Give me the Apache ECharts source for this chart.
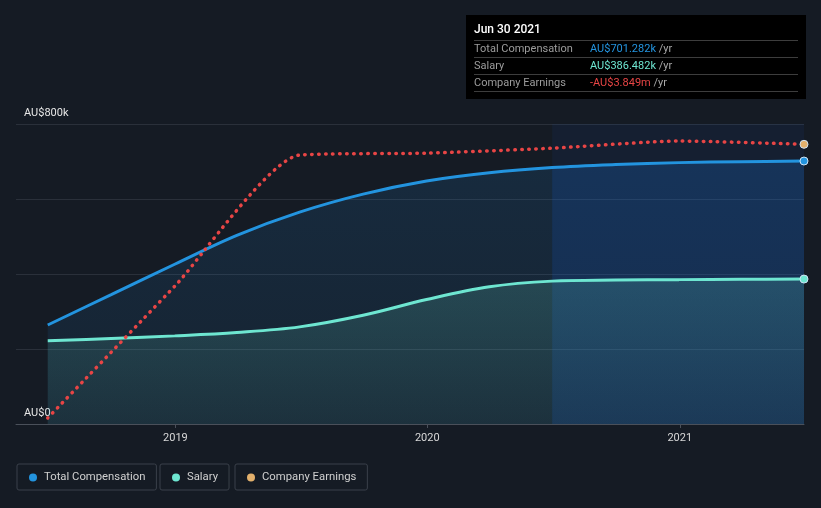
<!DOCTYPE html>
<html>
<head>
<meta charset="utf-8">
<script src="https://cdn.jsdelivr.net/npm/echarts@6/dist/echarts.min.js"></script>
<style>
html,body{margin:0;padding:0;background:#151b24;}
#c{width:821px;height:508px;}
</style>
</head>
<body>
<div id="c"></div>
<script>
// ---- data ----
var compDates = ['2018-06-30','2018-09-30','2018-12-31','2019-03-31','2019-06-30','2019-09-30','2019-12-31','2020-03-31','2020-06-30','2020-09-30','2020-12-31','2021-03-31','2021-06-30'];
var totalComp = [264, 345, 426, 503, 565, 613, 648, 670, 684, 692, 697, 699.5, 701.282]; // AU$k
var salary    = [222, 228, 235, 244, 259, 290, 332, 366, 381, 384, 385, 386, 386.482]; // AU$k
var earnDates = ['2018-06-30','2018-12-31','2019-06-30','2019-12-31','2020-06-30','2020-12-31','2021-06-30'];
var earnings  = [-13.78, -9.0, -4.24, -4.17, -3.99, -3.73, -3.849]; // AU$m
var yTicks = {0: 'AU$0', 800: 'AU$800k'};
var xYears = ['2019-01-01','2020-01-01','2021-01-01'];
var seriesNames = ['Total Compensation','Salary','Company Earnings'];
var tooltipDate = 'Jun 30 2021';
var highlightFrom = '2020-06-30';

function ts(s){ return new Date(s + 'T00:00:00').getTime(); }
function pairs(d, v, endColor){
  return v.map(function(y, i){
    var item = {value: [ts(d[i]), y]};
    if (i === v.length - 1) {
      item.symbol = 'circle'; item.symbolSize = 8;
      item.itemStyle = {color: endColor, borderColor: '#cfe3f5', borderWidth: 1};
    }
    return item;
  });
}
var hlIdx = compDates.indexOf(highlightFrom);

var chart = echarts.init(document.getElementById('c'), null, {renderer: 'canvas'});
var xMin = ts('2018-06-30') - 46 * 86400000;
var xMax = ts('2021-06-30');

var last = totalComp.length - 1;
var option = {
  backgroundColor: '#151b24',
  animation: false,
  textStyle: {fontFamily: 'Roboto'},
  grid: {left: 16, right: 17, top: 124, bottom: 84},
  xAxis: {
    type: 'value', min: xMin, max: xMax,
    axisLine: {lineStyle: {color: '#4a505a', width: 1}},
    axisTick: {show: true, length: 4, lineStyle: {color: '#4a505a'}, customValues: xYears.map(ts)},
    axisLabel: {color: '#d8d8d8', fontSize: 11, margin: 9, customValues: xYears.map(ts),
      formatter: function(v){ return String(new Date(v).getFullYear()); }},
    splitLine: {show: false}
  },
  yAxis: [{
    type: 'value', min: 0, max: 800, interval: 200,
    axisLine: {show: false}, axisTick: {show: false},
    splitLine: {lineStyle: {color: '#2a303a', width: 1}},
    axisLabel: {inside: true, color: '#e6e6e6', fontSize: 11, margin: 8, verticalAlign: 'bottom', padding: [0,0,5,0],
      formatter: function(v){ return yTicks[v] || ''; }}
  }, {
    type: 'value', min: -14, max: -3.112, show: false, splitLine: {show: false}
  }],
  legend: [
    {data: [seriesNames[0]], left: 17, top: 464},
    {data: [seriesNames[1]], left: 160, top: 464},
    {data: [seriesNames[2]], left: 235, top: 464}
  ].map(function(l){
    l.icon = 'circle'; l.itemWidth = 8; l.itemHeight = 8;
    l.padding = [8, 11, 7, 12]; l.borderColor = '#3a404a'; l.borderWidth = 1; l.borderRadius = 2;
    l.textStyle = {color: '#d0d0d0', fontSize: 11.3, padding: [0,0,0,2]};
    l.selectedMode = false;
    return l;
  }),
  series: [
    {
      name: seriesNames[0], type: 'line', smooth: 0.35, symbol: 'none', showAllSymbol: true,
      data: pairs(compDates, totalComp, '#2394df'),
      lineStyle: {color: '#2394df', width: 3},
      itemStyle: {color: '#2394df'},
      areaStyle: {color: new echarts.graphic.LinearGradient(0,0,0,1,[
        {offset: 0, color: 'rgba(35,140,223,0.20)'}, {offset: 1, color: 'rgba(35,140,223,0.10)'}])},
      z: 3,
      markArea: {silent: true, itemStyle: {color: 'rgba(30,90,200,0.08)'},
        data: [[{xAxis: ts(highlightFrom)}, {xAxis: xMax}]]}
    },
    {
      name: 'hl', type: 'line', smooth: 0.35, symbol: 'none', silent: true,
      data: compDates.slice(hlIdx).map(function(d, i){ return [ts(d), totalComp[hlIdx + i]]; }),
      lineStyle: {width: 0}, areaStyle: {color: 'rgba(20,90,210,0.16)'}, z: 2, legendHoverLink: false
    },
    {
      name: seriesNames[1], type: 'line', smooth: 0.35, symbol: 'none', showAllSymbol: true,
      data: pairs(compDates, salary, '#6ee6d1'),
      lineStyle: {color: '#6ee6d1', width: 3},
      itemStyle: {color: '#6ee6d1'},
      areaStyle: {color: new echarts.graphic.LinearGradient(0,0,0,1,[
        {offset: 0, color: 'rgba(110,230,209,0.25)'}, {offset: 1, color: 'rgba(110,230,209,0.10)'}])},
      z: 4
    },
    {
      name: seriesNames[2], type: 'line', yAxisIndex: 1, smooth: 0.2, symbol: 'none', showAllSymbol: true,
      data: pairs(earnDates, earnings, '#e2b06c'),
      lineStyle: {color: '#e84545', width: 3.5, type: [0.5, 6.5], cap: 'round'},
      itemStyle: {color: '#e2b06c'},
      z: 5
    }
  ],
  graphic: []
};

// tooltip-like info box
var fmtK = function(v){ return 'AU$' + v.toFixed(3) + 'k'; };
var fmtM = function(v){ return (v < 0 ? '-' : '') + 'AU$' + Math.abs(v).toFixed(3) + 'm'; };
var rows = [
  [seriesNames[0], fmtK(totalComp[last]), '#2394df'],
  [seriesNames[1], fmtK(salary[salary.length-1]), '#6ee6d1'],
  [seriesNames[2], fmtM(earnings[earnings.length-1]), '#e84545']
];
var g = [{type: 'rect', shape: {x: 466, y: 15, width: 340, height: 84}, style: {fill: '#000'}},
  {type: 'text', x: 474, y: 30, style: {text: tooltipDate, fill: '#fff', font: '500 12px Roboto', verticalAlign: 'middle'}}];
[40.5, 57.5, 74.5, 91.5].forEach(function(y){
  g.push({type: 'line', shape: {x1: 474, y1: y, x2: 798, y2: y}, style: {stroke: '#3d3d3d', lineWidth: 1}});
});
rows.forEach(function(r, i){
  var y = 49 + i * 17;
  g.push({type: 'text', x: 474, y: y, style: {text: r[0], fill: '#9c9c9c', font: '11px Roboto', verticalAlign: 'middle'}});
  g.push({type: 'text', x: 590, y: y, style: {text: '{v|' + r[1] + '} {u|/yr}', verticalAlign: 'middle', font: '11px Roboto',
    rich: {v: {fill: r[2], font: '11px Roboto'}, u: {fill: '#a8a8a8', font: '11px Roboto'}}}});
});
option.graphic = g;
chart.setOption(option);
</script>
</body>
</html>
